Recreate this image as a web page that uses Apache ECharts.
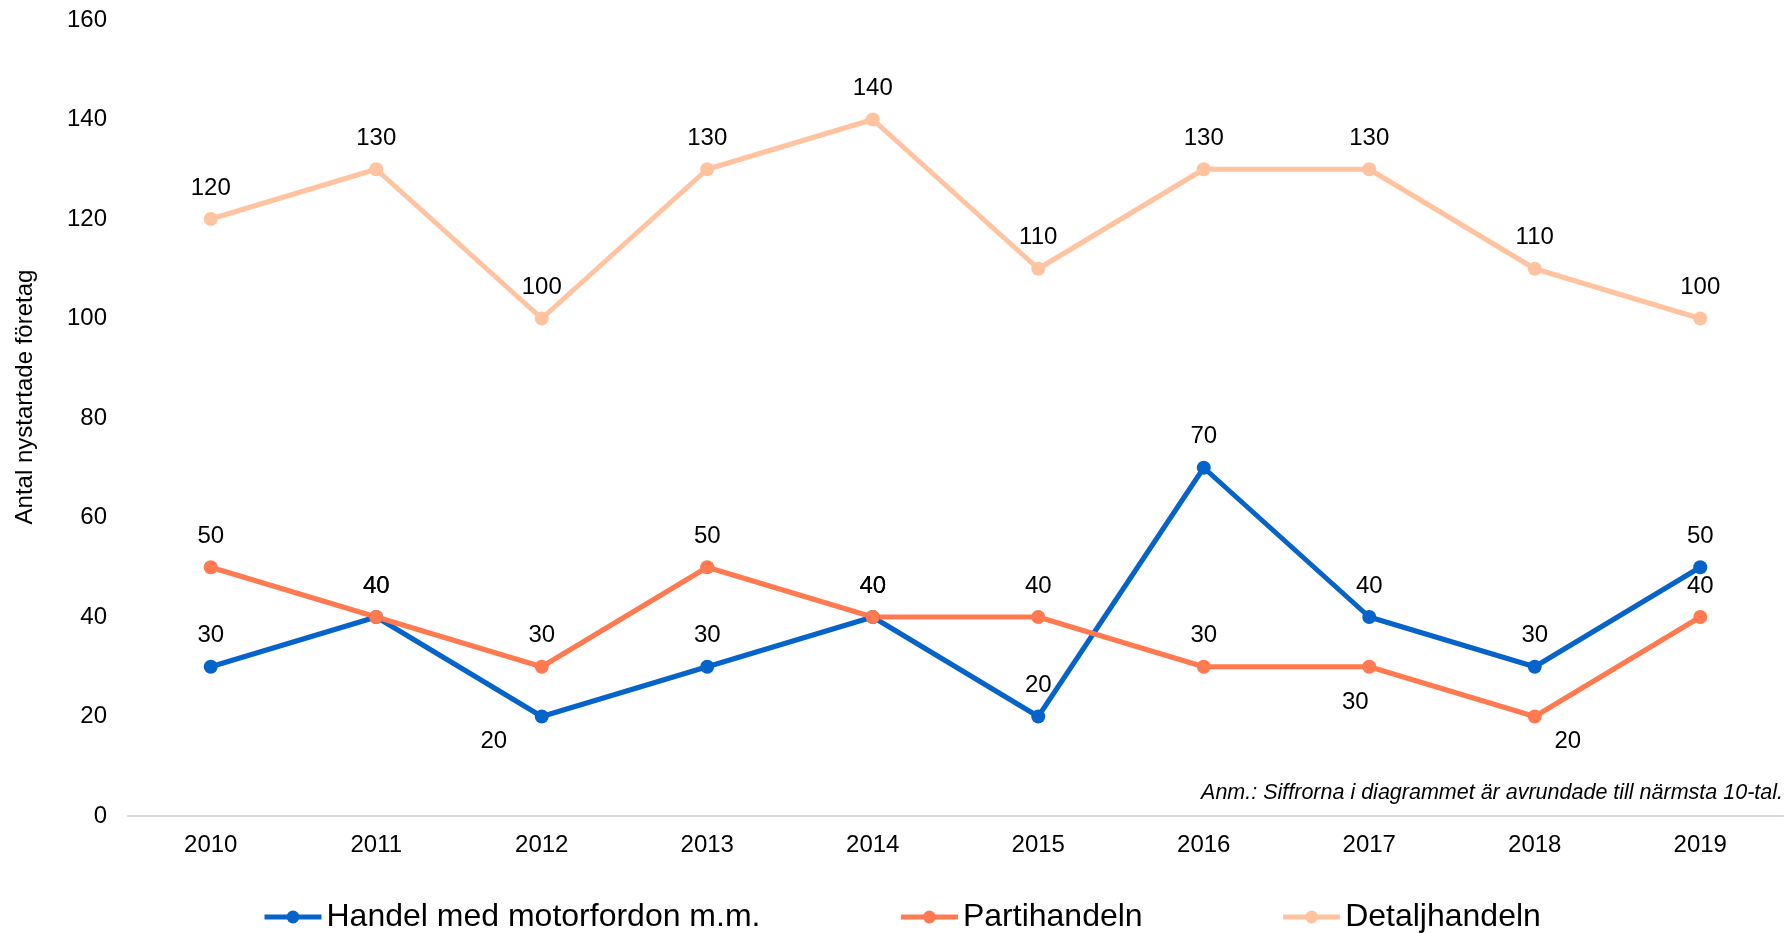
<!DOCTYPE html>
<html lang="sv">
  <head>
    <meta charset="UTF-8" />
    <title>Nystartade företag inom handeln</title>
    <script src="https://cdn.jsdelivr.net/npm/echarts@6/dist/echarts.min.js"></script>
    <style>
      html, body { margin: 0; padding: 0; background: #fff; }
    </style>
  </head>
  <body>
    <div id="container" style="width: 1787px; height: 933px"></div>
    <script>
      // data (rounded to nearest 10)
      var years = ['2010', '2011', '2012', '2013', '2014', '2015', '2016', '2017', '2018', '2019']
      var handel = [30, 40, 20, 30, 40, 20, 70, 40, 30, 50]
      var parti = [50, 40, 30, 50, 40, 40, 30, 30, 20, 40]
      var detalj = [120, 130, 100, 130, 140, 110, 130, 130, 110, 100]
      var seriesNames = ['Handel med motorfordon m.m.', 'Partihandeln', 'Detaljhandeln']

      var font = 'Liberation Sans, Arial, sans-serif'

      // labels sit above the point, except a few moved out of the way
      function withLabels(values, moved) {
        return values.map(function (v, i) {
          var item = { value: v }
          if (moved[i]) item.label = { offset: moved[i] }
          return item
        })
      }

      function lineSeries(name, values, color, moved) {
        return {
          name: name,
          type: 'line',
          data: withLabels(values, moved || {}),
          symbol: 'circle',
          symbolSize: 14,
          lineStyle: { color: color, width: 5 },
          itemStyle: { color: color },
          label: {
            show: true,
            position: 'inside',
            offset: [0, -31],
            color: '#000',
            fontSize: 24,
            fontFamily: font,
            textBorderWidth: 0
          },
          emphasis: { disabled: true }
        }
      }

      var myChart = echarts.init(document.querySelector('#container'))
      myChart.setOption({
        animation: false,
        backgroundColor: '#fff',
        grid: { left: 128, right: 4, top: 20, bottom: 117 },
        xAxis: {
          type: 'category',
          data: years,
          boundaryGap: true,
          axisLine: { lineStyle: { color: '#d9d9d9', width: 2 } },
          axisTick: { show: false },
          axisLabel: { color: '#000', fontSize: 24, fontFamily: font, margin: 17 }
        },
        yAxis: {
          type: 'value',
          min: 0,
          max: 160,
          interval: 20,
          splitLine: { show: false },
          axisLine: { show: false },
          axisTick: { show: false },
          axisLabel: { color: '#000', fontSize: 24, fontFamily: font, margin: 21 }
        },
        legend: {
          top: 896,
          left: 257,
          itemWidth: 57,
          itemHeight: 16,
          itemGap: 138,
          lineStyle: { width: 5 },
          textStyle: { color: '#000', fontSize: 32, fontFamily: font },
          data: seriesNames
        },
        graphic: [
          {
            type: 'text',
            x: 25,
            y: 397,
            rotation: Math.PI / 2,
            style: {
              text: 'Antal nystartade företag',
              fill: '#000',
              font: '24px ' + font,
              textAlign: 'center',
              textVerticalAlign: 'middle'
            }
          },
          {
            type: 'text',
            x: 1783,
            y: 793,
            style: {
              text: 'Anm.: Siffrorna i diagrammet är avrundade till närmsta 10-tal.',
              fill: '#000',
              font: 'italic 21.5px ' + font,
              textAlign: 'right',
              textVerticalAlign: 'middle'
            }
          }
        ],
        series: [
          lineSeries(seriesNames[0], handel, '#0563c9', { 2: [-48, 25] }),
          lineSeries(seriesNames[1], parti, '#ff7a50', { 7: [-14, 36], 8: [33, 25] }),
          lineSeries(seriesNames[2], detalj, '#ffc3a0')
        ]
      })
    </script>
  </body>
</html>
